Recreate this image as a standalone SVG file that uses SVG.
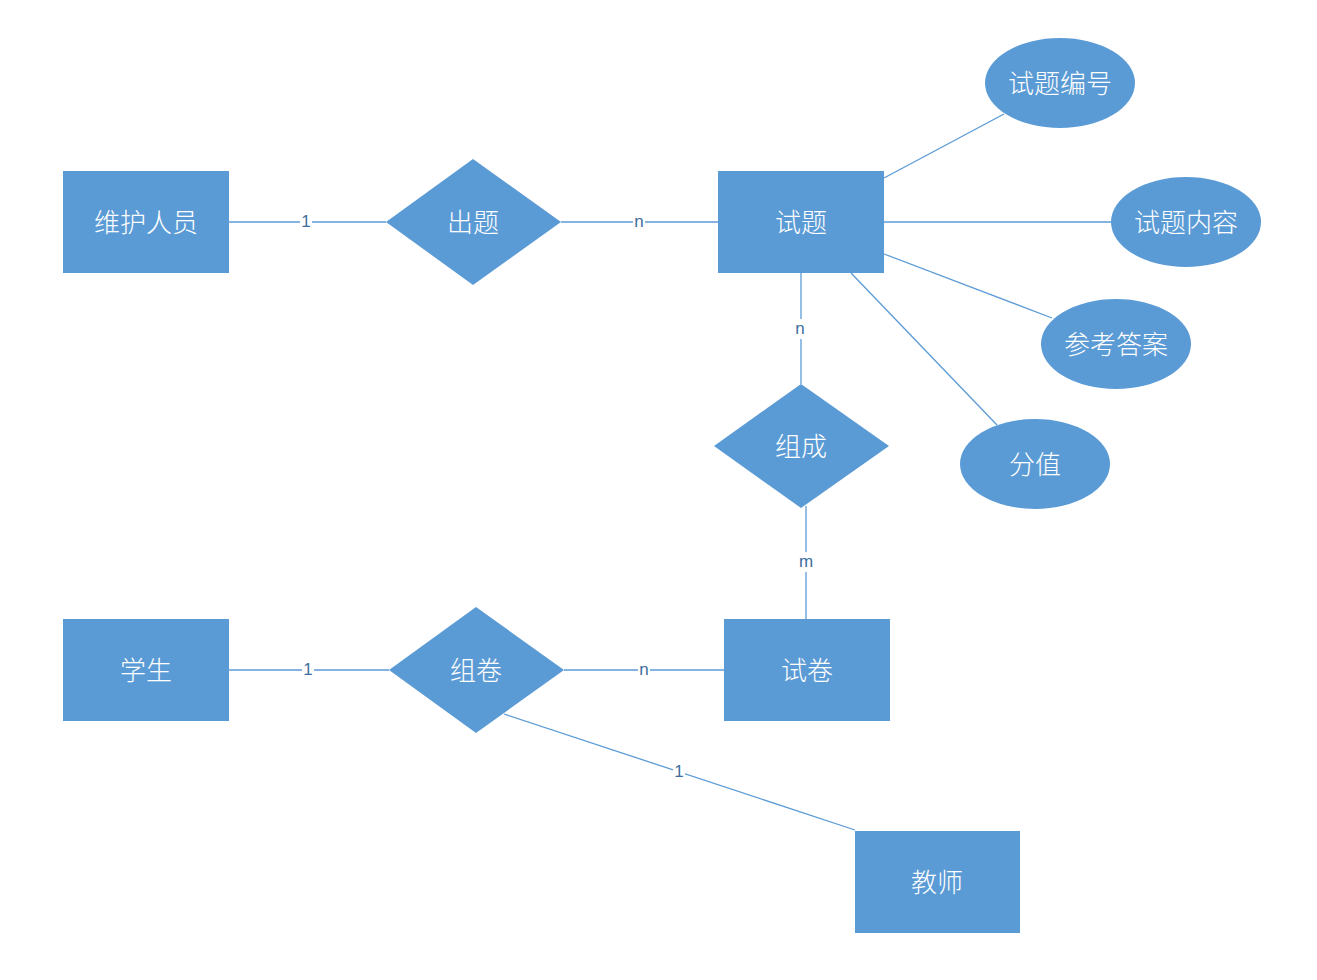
<svg xmlns="http://www.w3.org/2000/svg" width="1317" height="980" viewBox="0 0 1317 980">
<style>
.n{fill:#5B9BD5}
.t{fill:#fff;font-family:"Noto Sans CJK SC","Noto Sans",sans-serif;font-size:26px;font-weight:300;text-anchor:middle;dominant-baseline:central}
.c{stroke:#5B9BD5;stroke-width:1.3;fill:none}
.lb{fill:#fff}
.l{fill:#3F6E9E;font-family:"Liberation Sans","Noto Sans",sans-serif;font-size:17px;text-anchor:middle;dominant-baseline:central}
</style>
<rect width="1317" height="980" fill="#fff"/>
<g id="connectors">
<line class="c" x1="229" y1="222" x2="386" y2="222"/>
<line class="c" x1="561" y1="222" x2="718" y2="222"/>
<line class="c" x1="801" y1="273" x2="801" y2="384"/>
<line class="c" x1="806" y1="506" x2="806" y2="619"/>
<line class="c" x1="229" y1="670" x2="389" y2="670"/>
<line class="c" x1="564" y1="670" x2="724" y2="670"/>
<line class="c" x1="504" y1="714" x2="855" y2="830"/>
<line class="c" x1="884" y1="178" x2="1004" y2="114"/>
<line class="c" x1="884" y1="222" x2="1111" y2="222"/>
<line class="c" x1="884" y1="254" x2="1052" y2="318"/>
<line class="c" x1="851" y1="273" x2="997" y2="425"/>
<rect class="lb" x="300" y="212" width="12" height="20"/><text class="l" x="306" y="221">1</text>
<rect class="lb" x="633" y="212" width="12" height="20"/><text class="l" x="639" y="221">n</text>
<rect class="lb" x="794" y="319" width="13" height="20"/><text class="l" x="800" y="328">n</text>
<rect class="lb" x="797" y="552" width="18" height="20"/><text class="l" x="806" y="561">m</text>
<rect class="lb" x="302" y="660" width="12" height="20"/><text class="l" x="308" y="669">1</text>
<rect class="lb" x="638" y="660" width="12" height="20"/><text class="l" x="644" y="669">n</text>
<rect class="lb" x="673" y="762" width="12" height="20"/><text class="l" x="679" y="771">1</text>
</g>
<g id="weihu"><rect class="n" x="63" y="171" width="166" height="102"/><text class="t" x="146" y="220">维护人员</text></g>
<g id="chuti"><polygon class="n" points="473,159 561,222 473,285 386,222"/><text class="t" x="473" y="220">出题</text></g>
<g id="shiti"><rect class="n" x="718" y="171" width="166" height="102"/><text class="t" x="801" y="220">试题</text></g>
<g id="bianhao"><ellipse class="n" cx="1060" cy="83" rx="75" ry="45"/><text class="t" x="1060" y="81">试题编号</text></g>
<g id="neirong"><ellipse class="n" cx="1186" cy="222" rx="75" ry="45"/><text class="t" x="1186" y="220">试题内容</text></g>
<g id="daan"><ellipse class="n" cx="1116" cy="344" rx="75" ry="45"/><text class="t" x="1116" y="342">参考答案</text></g>
<g id="fenzhi"><ellipse class="n" cx="1035" cy="464" rx="75" ry="45"/><text class="t" x="1035" y="462">分值</text></g>
<g id="zucheng"><polygon class="n" points="801,384 889,446 801,508 714,446"/><text class="t" x="801" y="444">组成</text></g>
<g id="xuesheng"><rect class="n" x="63" y="619" width="166" height="102"/><text class="t" x="146" y="668">学生</text></g>
<g id="zujuan"><polygon class="n" points="476,607 564,670 476,733 389,670"/><text class="t" x="476" y="668">组卷</text></g>
<g id="shijuan"><rect class="n" x="724" y="619" width="166" height="102"/><text class="t" x="807" y="668">试卷</text></g>
<g id="jiaoshi"><rect class="n" x="855" y="831" width="165" height="102"/><text class="t" x="937" y="880">教师</text></g>
</svg>
